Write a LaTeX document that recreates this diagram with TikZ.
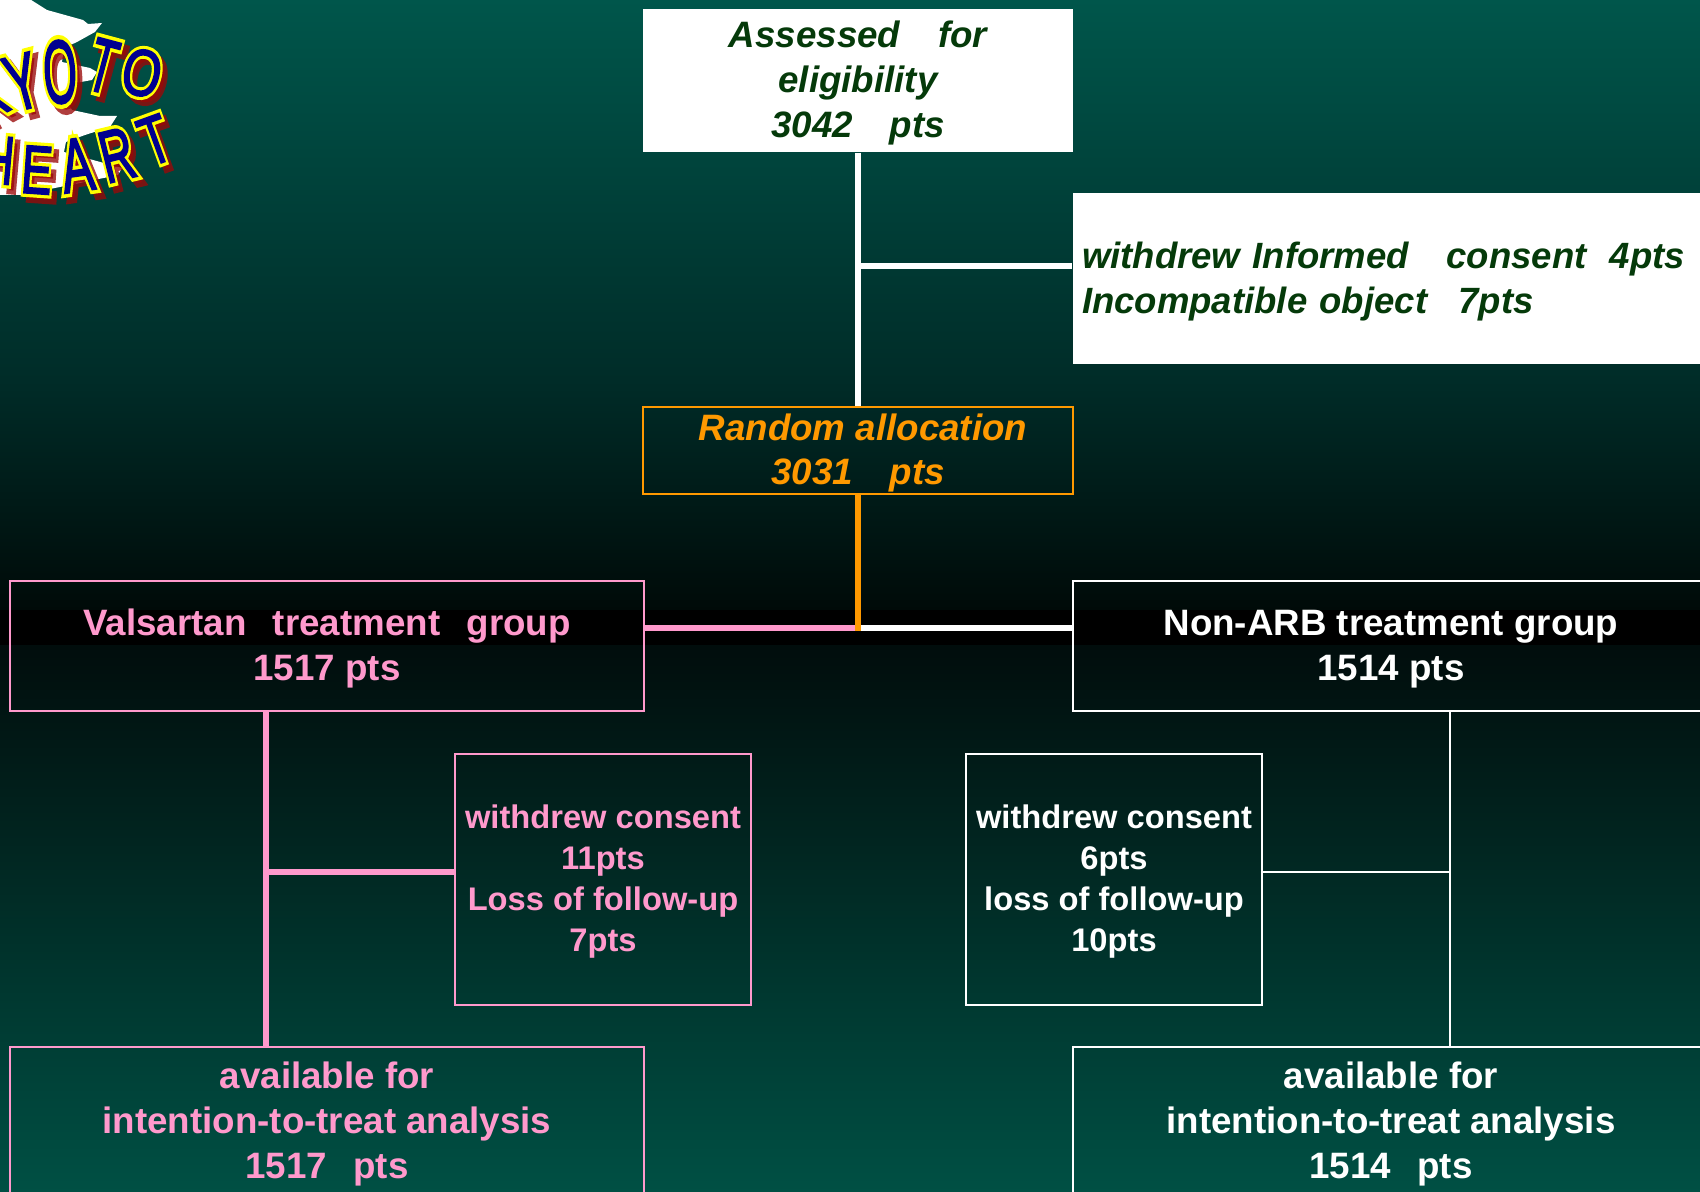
\documentclass[tikz,border=0pt]{standalone}
\usepackage{fontspec}
\setmainfont{Liberation Sans}
\newfontfamily\logofat[FakeBold=12]{Liberation Sans}
\newfontfamily\logoshadow[FakeBold=12]{Liberation Sans}
\newfontfamily\logothin[FakeBold=2.5]{Liberation Sans}
\definecolor{teal1}{HTML}{00564B}
\definecolor{teal2}{HTML}{005044}
\definecolor{mid1}{HTML}{002C28}
\definecolor{low1}{HTML}{000A08}
\definecolor{low2}{HTML}{010D0C}
\definecolor{pinkc}{HTML}{FF99CC}
\definecolor{orangec}{HTML}{FF9900}
\definecolor{greenc}{HTML}{053A0A}
\definecolor{logoblue}{HTML}{000090}
\definecolor{logoyel}{HTML}{FFFF00}
\definecolor{logored}{HTML}{9A0808}
\def\px{0.02cm}
\newcommand{\bigfont}{\fontsize{20.9}{25.6}\selectfont\bfseries}
\newcommand{\smallfont}{\fontsize{18.6}{23.4}\selectfont\bfseries}
\newcommand{\gap}[1]{\hspace*{#1\fontdimen2\font}}
\newcommand{\bt}{\rule{0pt}{18pt}}
\newcommand{\st}{\rule{0pt}{16pt}}
\newcommand{\logoletter}[6]{%
  \node[logoglyph,opacity=.78,text=logored,rotate=#3,xscale=#4,yscale=#5] (#6s) at (#1+5,#2+6) {\logoshadow\csname glyph#6\endcsname};
  \node[logoglyph,text=logoyel,rotate=#3,xscale=#4,yscale=#5] (#6y) at (#1,#2) {\logofat\csname glyph#6\endcsname};
  \node[logoglyph,text=logoblue,rotate=#3,xscale=#4,yscale=#5] (#6b) at (#1,#2) {\logothin\csname glyph#6\endcsname};
}
\def\glyphka{K}\def\glyphkb{Y}\def\glyphkc{O}\def\glyphkd{T}\def\glyphke{O}
\def\glyphha{H}\def\glyphhb{E}\def\glyphhc{A}\def\glyphhd{R}\def\glyphhe{T}
\tikzset{
  logoglyph/.style={inner sep=0pt,font=\fontsize{30}{30}\selectfont},
  flowbox/.style={inner sep=0pt,align=center,line width=2*\px},
  assessbox/.style={flowbox,fill=white,text=greenc,font=\bigfont\itshape,minimum width=430*\px,minimum height=143*\px},
  excludebox/.style={flowbox,fill=white,text=greenc,font=\bigfont\itshape,minimum width=640*\px,minimum height=171*\px,align=left,text width=622*\px},
  randombox/.style={flowbox,draw=orangec,text=orangec,font=\bigfont\itshape,minimum width=430*\px,minimum height=87*\px},
  pinkgroup/.style={flowbox,draw=pinkc,text=pinkc,font=\bigfont,minimum width=634*\px},
  whitegroup/.style={flowbox,draw=white,text=white,font=\bigfont,minimum width=636*\px},
  pinksmall/.style={flowbox,draw=pinkc,text=pinkc,font=\smallfont,minimum width=296*\px,minimum height=251*\px},
  whitesmall/.style={flowbox,draw=white,text=white,font=\smallfont,minimum width=296*\px,minimum height=251*\px},
  thickline/.style={line width=5.5*\px},
  thinline/.style={line width=2.2*\px,white},
}
\begin{document}
\begin{tikzpicture}[x=0.02cm,y=-0.02cm]
\path[use as bounding box,clip] (0,0) rectangle (1700,1192);
% background
\shade[top color=teal1,bottom color=mid1,shading angle=0] (-1,-1) rectangle (1701,380);
\shade[top color=mid1,bottom color=low1] (-1,380) rectangle (1701,610);
\fill[black] (-1,610) rectangle (1701,645);
\shade[top color=low2,bottom color=teal2] (-1,645) rectangle (1701,1193);
% logo backdrop
\fill[white] (-2,-2) -- (28,-2) -- (47,10) -- (83,20) -- (88,24) -- (102,23) -- (95,32) -- (77,42) -- (64,48) -- (62,62)
  -- (90,68) -- (97,72) -- (92,80) -- (70,84) -- (66,100) -- (72,110) -- (100,116) -- (117,116) -- (110,127) -- (85,135)
  -- (66,142) -- (64,152) -- (122,168) -- (118,175) -- (70,185) -- (20,195) -- (-2,195) -- cycle;
\logoletter{-14}{92}{28}{.85}{1.5}{ka}
\logoletter{22}{82}{15}{.92}{1.5}{kb}
\logoletter{60}{72}{3}{.82}{1.7}{kc}
\logoletter{103}{66}{-15}{.82}{1.45}{kd}
\logoletter{142}{73}{-12}{.95}{1.25}{ke}
\logoletter{-2}{160}{-5}{.85}{1.3}{ha}
\logoletter{37}{170}{-4}{.88}{1.3}{hb}
\logoletter{77}{165}{8}{.92}{1.45}{hc}
\logoletter{117}{155}{14}{.88}{1.4}{hd}
\logoletter{155}{140}{20}{.88}{1.3}{he}
% boxes
\node[assessbox] (assess) at (858,80.5) {\bt Assessed\gap{3.7}for\\eligibility\\3042\gap{3.6}pts};
\node[excludebox,font=\fontsize{20.8}{25.6}\selectfont\bfseries\itshape] (exclude) at (1393,278.5) {\bt withdrew Informed\gap{3.7}consent\gap{2.3}4pts\\Incompatible object\gap{3.1}7pts};
\node[randombox] (random) at (858,450.5) {\bt\hspace*{5.6pt}Random allocation\\3031\gap{3.6}pts};
\node[pinkgroup,minimum height=130*\px] (valsartan) at (327,646) {\bt Valsartan\gap{2.6}treatment\gap{2.6}group\\1517 pts};
\node[whitegroup,minimum height=130*\px] (nonarb) at (1391,646) {\bt Non-ARB treatment group\\1514 pts};
\node[pinksmall] (pinkout) at (603,879.5) {\st withdrew consent\\11pts\\Loss of follow-up\\7pts};
\node[whitesmall] (whiteout) at (1114,879.5) {\st withdrew consent\\6pts\\loss of follow-up\\10pts};
\node[pinkgroup,minimum height=149*\px] (pinkfinal) at (327,1121.5) {\bt available for\\intention-to-treat analysis\\1517\gap{2.6}pts};
\node[whitegroup,minimum height=149*\px] (whitefinal) at (1391,1121.5) {\bt available for\\intention-to-treat analysis\\1514\gap{2.6}pts};
% junctions
\coordinate (jtop) at (858,266);
\coordinate (jmid) at (858,628);
\coordinate (jpink) at (266,872);
\coordinate (jwhite) at (1450,872);
\coordinate (pinktop) at (266,711);
\coordinate (pinkbot) at (266,1047);
\coordinate (whitetop) at (1450,711);
\coordinate (whitebot) at (1450,1047);
% connectors
\draw[thickline,white] (assess.south) -- (random.north);
\draw[thickline,white] (jtop) -- (exclude.west |- jtop);
\draw[thickline,pinkc] (valsartan.east |- jmid) -- (jmid);
\draw[thickline,white] (jmid) -- (nonarb.west |- jmid);
\draw[thickline,orangec] (random.south) -- ([yshift=-2.75*\px]jmid);
\draw[thickline,pinkc] (pinktop) -- (pinkbot);
\draw[thickline,pinkc] (jpink) -- (pinkout.west |- jpink);
\draw[thinline] (whitetop) -- (whitebot);
\draw[thinline] (whiteout.east |- jwhite) -- (jwhite);
\end{tikzpicture}
\end{document}
